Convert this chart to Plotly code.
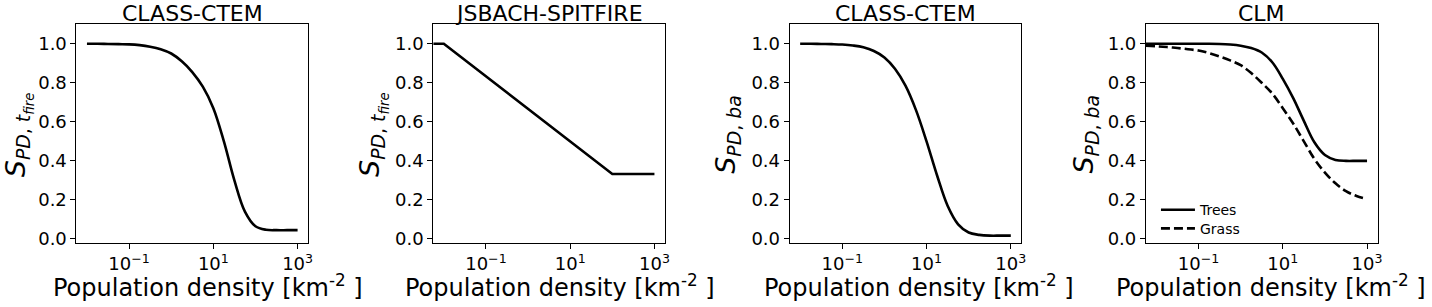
import plotly.graph_objects as go

# ---------------- data ----------------
titles = ["CLASS-CTEM", "JSBACH-SPITFIRE", "CLASS-CTEM", "CLM"]
ylabels = [
    "<i>S</i><sub><i>PD</i>, <i>t<sub>fire</sub></i></sub>",
    "<i>S</i><sub><i>PD</i>, <i>t<sub>fire</sub></i></sub>",
    "<i>S</i><sub><i>PD</i>, <i>ba</i></sub>",
    "<i>S</i><sub><i>PD</i>, <i>ba</i></sub>",
]
xlabel = "Population density [km<sup>-2</sup> ]"

tick_vals = [0.1, 10, 1000]
tick_text = ["10<sup>\u22121</sup>", "10<sup>1</sup>", "10<sup>3</sup>"]

# population density sampled every quarter decade
dens = [0.01, 0.0178, 0.0316, 0.0562, 0.1, 0.178, 0.316, 0.562, 1.0, 1.78, 3.16, 5.62,
        10.0, 17.8, 31.6, 56.2, 100.0, 178.0, 316.0, 562.0, 1000.0]

# panel 1: CLASS-CTEM, S_PD,t_fire
p1_y = [1.0, 1.0, 0.999, 0.998, 0.997, 0.993, 0.985, 0.972, 0.95, 0.91, 0.855, 0.78,
        0.67, 0.50, 0.30, 0.14, 0.065, 0.047, 0.045, 0.045, 0.045]

# panel 2: JSBACH-SPITFIRE (piecewise linear in log density)
p2_x = [0.0056, 0.01, 100.0, 1000.0]
p2_y = [1.0, 1.0, 0.333, 0.333]

# panel 3: CLASS-CTEM, S_PD,ba
p3_y = [1.0, 1.0, 0.999, 0.998, 0.996, 0.991, 0.982, 0.963, 0.93, 0.872, 0.785, 0.66,
        0.50, 0.325, 0.17, 0.075, 0.033, 0.021, 0.017, 0.017, 0.017]

# panel 4: CLM (curves start at the left edge of the axis)
p4_x = [0.0056] + dens
trees_y = [1.0, 1.0, 1.0, 1.0, 1.0, 1.0, 1.0, 0.999, 0.996, 0.99, 0.978, 0.955, 0.905,
           0.82, 0.72, 0.605, 0.495, 0.43, 0.405, 0.40, 0.40, 0.40]
grass_y = [0.99, 0.987, 0.983, 0.978, 0.972, 0.965, 0.952, 0.935, 0.915, 0.89, 0.85, 0.80,
           0.745, 0.67, 0.59, 0.50, 0.41, 0.34, 0.285, 0.245, 0.22, 0.205]

# ---------------- layout geometry ----------------
W, H = 1432, 307
ax_left = [76.7, 434.8, 792.4, 1149.9]
ax_w = 232.5
ax_top, ax_bot = 24.7, 247.7

FONT = "DejaVu Sans"
fig = go.Figure()

series = [
    [(dens, p1_y, "solid", None, "spline", "legend")],
    [(p2_x, p2_y, "solid", None, "linear", "legend")],
    [(dens, p3_y, "solid", None, "spline", "legend")],
    [(p4_x, trees_y, "solid", "Trees", "spline", "legend"),
     (p4_x, grass_y, "9px,4px", "Grass", "spline", "legend2")],
]

for i, sl in enumerate(series):
    xa = "x" if i == 0 else f"x{i+1}"
    ya = "y" if i == 0 else f"y{i+1}"
    for xs, ys, dash, name, shape, lg in sl:
        ln = dict(color="black", width=2.6, dash=dash, shape=shape)
        if shape == "spline":
            ln["smoothing"] = 1.0
        fig.add_trace(go.Scatter(
            x=xs, y=ys, mode="lines", xaxis=xa, yaxis=ya, line=ln,
            name=name if name else "", showlegend=name is not None, legend=lg,
        ))

axis_common = dict(showline=True, linecolor="black", linewidth=1, mirror=True,
                   ticks="outside", ticklen=5, tickwidth=1, tickcolor="black",
                   showgrid=False, zeroline=False,
                   tickfont=dict(family=FONT, size=18, color="black"))

layout_axes = {}
for i in range(4):
    sfx = "" if i == 0 else str(i + 1)
    x0 = ax_left[i] / W
    x1 = (ax_left[i] + ax_w) / W
    layout_axes[f"xaxis{sfx}"] = dict(
        axis_common, type="log", range=[-2.25, 3.25], domain=[x0, x1],
        tickvals=tick_vals, ticktext=tick_text,
        anchor=f"y{sfx}")
    layout_axes[f"yaxis{sfx}"] = dict(
        axis_common, range=[-0.02, 1.1], domain=[1 - ax_bot / H, 1 - ax_top / H],
        tickvals=[0, 0.2, 0.4, 0.6, 0.8, 1.0], tickformat=".1f",
        anchor=f"x{sfx}")

fig.update_layout(**layout_axes)

annotations = []
label_centers = [209, 562, 922, 1275]
ylabel_x = [19, 375, 730, 1089]
for i in range(4):
    cx = (ax_left[i] + ax_w / 2) / W
    annotations.append(dict(text=titles[i], xref="paper", yref="paper",
                            x=cx, y=1.0, xanchor="center", yanchor="top", borderpad=0,
                            showarrow=False, font=dict(family=FONT, size=22, color="black")))
    annotations.append(dict(text=xlabel, xref="paper", yref="paper",
                            x=label_centers[i] / W, y=1 - 291.5 / H, xanchor="center", yanchor="middle",
                            showarrow=False, font=dict(family=FONT, size=24, color="black")))
    annotations.append(dict(text=ylabels[i], xref="paper", yref="paper", textangle=-90,
                            x=ylabel_x[i] / W, y=1 - 137 / H, xanchor="center", yanchor="middle",
                            showarrow=False, font=dict(family=FONT, size=27, color="black")))

legend_style = dict(xanchor="left", yanchor="top", bgcolor="rgba(0,0,0,0)",
                    itemwidth=34,
                    font=dict(family=FONT, size=14, color="black"))
fig.update_layout(
    width=W, height=H, autosize=False,
    margin=dict(l=0, r=0, t=0, b=0),
    paper_bgcolor="white", plot_bgcolor="white",
    font=dict(family=FONT, color="black"),
    annotations=annotations,
    legend=dict(legend_style, x=1160 / W, y=1 - 198 / H),
    legend2=dict(legend_style, x=1160 / W, y=1 - 217 / H),
    showlegend=True,
)

fig.write_html("out.html", config={"displayModeBar": False},
               post_script="document.body.style.margin='0px';document.body.style.overflow='hidden';")
